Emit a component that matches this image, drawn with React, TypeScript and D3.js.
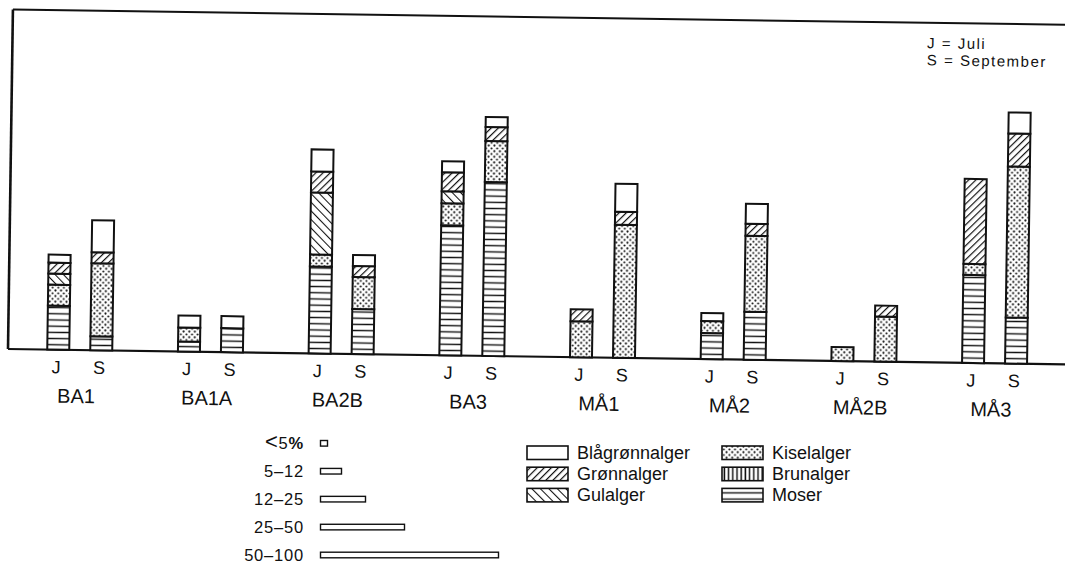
import React from "react";
import * as d3 from "d3";

// ---- Data (relative abundance) ----
const groups = ["BA1", "BA1A", "BA2B", "BA3", "MÅ1", "MÅ2", "MÅ2B", "MÅ3"];
const months = ["J", "S"];

// each array: [BA1 J, BA1 S, BA1A J, BA1A S, BA2B J, BA2B S, BA3 J, BA3 S, MÅ1 J, MÅ1 S, MÅ2 J, MÅ2 S, MÅ2B J, MÅ2B S, MÅ3 J, MÅ3 S]
const moser = [44, 14, 10, 24, 87, 45, 130, 174, 0, 0, 26, 48, 0, 0, 88, 46];
const brunalger = [0, 0, 0, 0, 0, 0, 0, 0, 0, 0, 0, 0, 0, 0, 0, 0];
const kiselalger = [21, 73, 14, 0, 12, 32, 22, 41, 36, 133, 12, 76, 14, 45, 11, 151];
const gulalger = [11, 0, 0, 0, 62, 0, 12, 0, 0, 0, 0, 0, 0, 0, 0, 0];
const gronnalger = [11, 11, 0, 0, 21, 11, 19, 14, 12, 13, 0, 12, 0, 11, 85, 33];
const blagronnalger = [8, 32, 12, 12, 22, 11, 11, 10, 0, 28, 8, 20, 0, 0, 0, 21];

const seriesKeys = ["moser", "brunalger", "kiselalger", "gulalger", "gronnalger", "blagronnalger"];
const seriesValues: Record<string, number[]> = { moser, brunalger, kiselalger, gulalger, gronnalger, blagronnalger };

const legendLeft = [
  { key: "blagronnalger", label: "Blågrønnalger" },
  { key: "gronnalger", label: "Grønnalger" },
  { key: "gulalger", label: "Gulalger" },
];
const legendRight = [
  { key: "kiselalger", label: "Kiselalger" },
  { key: "brunalger", label: "Brunalger" },
  { key: "moser", label: "Moser" },
];

const sizeLabels = ["5", "5–12", "12–25", "25–50", "50–100"];
const sizeLengths = [7, 21, 45, 84, 178];

const noteLines = ["J = Juli", "S = September"];

const FONT = "'Liberation Sans', Arial, Helvetica, sans-serif";
const W = 1065;
const H = 564;

const fillFor = (key: string) =>
  key === "blagronnalger" ? "#fff" : `url(#pat-${key})`;

export default function App() {
  const rows = groups.flatMap((g, gi) =>
    months.map((m, mi) => {
      const r: any = { group: g, month: m };
      seriesKeys.forEach((k) => (r[k] = seriesValues[k][gi * 2 + mi]));
      return r;
    })
  );
  const stacked = d3.stack<any>().keys(seriesKeys)(rows);

  const x0 = d3.scaleBand<string>().domain(groups).range([14.4, 1060]).padding(0);
  const x1 = d3.scalePoint<string>().domain(months).range([-21.5, 21.5]);
  const y = d3.scaleLinear().domain([0, 339.5]).range([349, 9.5]);
  const barW = 22;
  const cx = (g: string) => (x0(g) as number) + x0.bandwidth() / 2;

  const sizeX = d3.scaleLinear().domain([0, 178]).range([0, 178]);
  const sizeY = d3.scaleLinear().domain([0, 4]).range([443.3, 555]);

  const ink = "#111";

  return (
    <svg
      width={W}
      height={H}
      viewBox={`0 0 ${W} ${H}`}
      style={{ position: "absolute", left: 0, top: 0, background: "#fff" }}
      fontFamily={FONT}
    >
      <defs>
        <pattern id="pat-gronnalger" width={5} height={5} patternUnits="userSpaceOnUse" patternTransform="rotate(45)">
          <rect width={5} height={5} fill="#fff" />
          <line x1={0} y1={0} x2={0} y2={5} stroke={ink} strokeWidth={2.4} />
        </pattern>
        <pattern id="pat-gulalger" width={6} height={6} patternUnits="userSpaceOnUse" patternTransform="rotate(-45)">
          <rect width={6} height={6} fill="#fff" />
          <line x1={0} y1={0} x2={0} y2={6} stroke={ink} strokeWidth={2.1} />
        </pattern>
        <pattern id="pat-kiselalger" width={5.6} height={5.6} patternUnits="userSpaceOnUse">
          <rect width={5.6} height={5.6} fill="#fff" />
          <circle cx={1.4} cy={1.4} r={1.05} fill={ink} />
          <circle cx={4.2} cy={4.2} r={1.05} fill={ink} />
        </pattern>
        <pattern id="pat-brunalger" width={4.2} height={4} patternUnits="userSpaceOnUse">
          <rect width={4.2} height={4} fill="#fff" />
          <line x1={2} y1={0} x2={2} y2={4} stroke={ink} strokeWidth={1.5} />
        </pattern>
        <pattern id="pat-moser" width={6} height={6.2} patternUnits="userSpaceOnUse">
          <rect width={6} height={6.2} fill="#fff" />
          <line x1={0} y1={3.1} x2={6} y2={3.1} stroke={ink} strokeWidth={1.4} />
        </pattern>
      </defs>

      {/* main chart (scanned slightly rotated) */}
      <g transform="rotate(0.83 8 349)">
        <line x1={8} y1={y(0)} x2={8} y2={y(339.5)} stroke={ink} strokeWidth={2.6} />
        <line x1={8} y1={y(339.5)} x2={1090} y2={y(339.5)} stroke={ink} strokeWidth={2} />
        <line x1={8} y1={y(0)} x2={1090} y2={y(0)} stroke={ink} strokeWidth={2.2} />

        {stacked.map((s) => (
          <g key={s.key}>
            {s.map((d, i) => {
              const h = y(d[0]) - y(d[1]);
              if (h <= 0.01) return null;
              const row = rows[i];
              const x = cx(row.group) + (x1(row.month) as number) - barW / 2;
              return (
                <rect
                  key={i}
                  x={x}
                  y={y(d[1])}
                  width={barW}
                  height={h}
                  fill={fillFor(s.key as string)}
                  stroke={ink}
                  strokeWidth={2}
                />
              );
            })}
          </g>
        ))}

        {rows.map((r, i) => (
          <text
            key={`m${i}`}
            x={cx(r.group) + (x1(r.month) as number) - 2}
            y={372.5}
            fontSize={18}
            textAnchor="middle"
            fill={ink}
          >
            {r.month}
          </text>
        ))}
        {groups.map((g) => (
          <text key={g} x={cx(g) - 3} y={402} fontSize={20} textAnchor="middle" fill={ink}>
            {g}
          </text>
        ))}

        {noteLines.map((t, i) => (
          <text key={t} x={922.6} y={35 + i * 17} fontSize={15} fill={ink} letterSpacing={1.5}>
            {t}
          </text>
        ))}
      </g>

      {/* size classes legend */}
      {sizeLabels.map((lab, i) => (
        <g key={lab + i}>
          <text x={304} y={sizeY(i) + 5.5} fontSize={16.5} textAnchor="end" fill={ink} letterSpacing={0.8}>
            {i === 0 ? <tspan fontSize={22} fontWeight="normal">{"<"}</tspan> : null}
            {lab}
            {i === 0 ? <tspan fontWeight="bold">%</tspan> : null}
          </text>
          <rect
            x={320.5}
            y={sizeY(i) - 2.8}
            width={sizeX(sizeLengths[i])}
            height={5.6}
            fill="#fff"
            stroke={ink}
            strokeWidth={1.4}
          />
        </g>
      ))}

      {/* algae legend */}
      {[legendLeft, legendRight].map((col, ci) =>
        col.map((it, ri) => {
          const sx = ci === 0 ? 527 : 722;
          const sy = 446 + ri * 21.2;
          return (
            <g key={it.key}>
              <rect x={sx} y={sy} width={41} height={13.5} fill={fillFor(it.key)} stroke={ink} strokeWidth={1.6} />
              <text x={sx + 50} y={sy + 13} fontSize={18} fill={ink}>
                {it.label}
              </text>
            </g>
          );
        })
      )}
    </svg>
  );
}
